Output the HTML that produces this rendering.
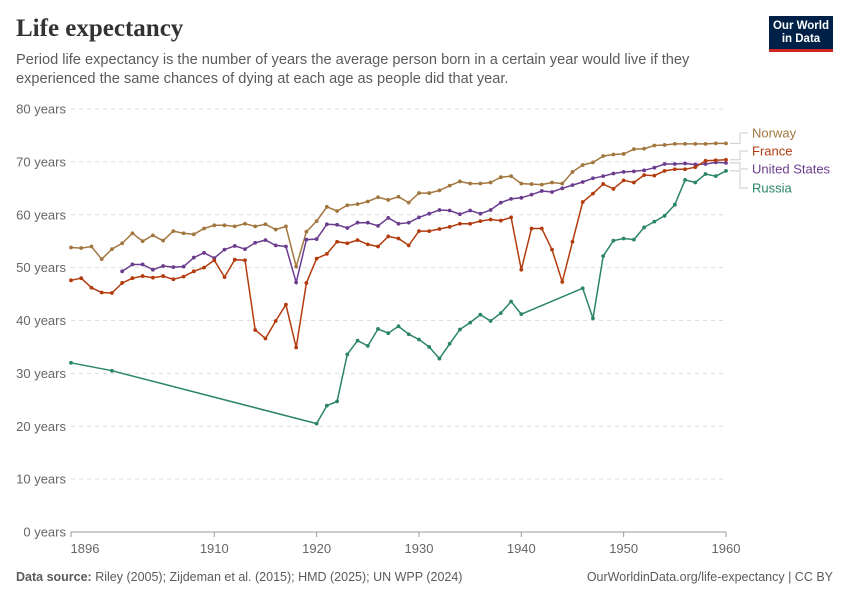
<!DOCTYPE html>
<html><head><meta charset="utf-8"><style>
body{margin:0;background:#fff;font-family:"Liberation Sans",sans-serif;}
#wrap{position:relative;width:850px;height:600px;overflow:hidden;}
.title{position:absolute;left:16px;top:15px;font-family:"Liberation Serif",serif;font-size:25px;color:#333;font-weight:bold;}
.sub{position:absolute;left:16px;top:51px;font-size:14.6px;line-height:19px;color:#5b5b5b;width:740px;}
.logo{position:absolute;left:769px;top:16px;width:64px;height:36px;background:#002147;border-bottom:3px solid #ce261e;color:#fff;font-size:11.5px;font-weight:bold;text-align:center;line-height:13px;padding-top:4px;box-sizing:border-box;}
.foot{position:absolute;top:570px;font-size:12.5px;color:#5b5b5b;}
</style></head><body>
<div id="wrap">
<div class="title">Life expectancy</div>
<div class="sub">Period life expectancy is the number of years the average person born in a certain year would live if they experienced the same chances of dying at each age as people did that year.</div>
<div class="logo">Our World<br>in Data</div>
<svg id="svg" width="850" height="600" style="position:absolute;left:0;top:0"></svg>
<div class="foot" style="left:16px"><b>Data source:</b> Riley (2005); Zijdeman et al. (2015); HMD (2025); UN WPP (2024)</div>
<div class="foot" style="right:17px">OurWorldinData.org/life-expectancy | CC BY</div>
</div>
<script>
const yTicks=[0,10,20,30,40,50,60,70,80];
const xTicks=[1896,1910,1920,1930,1940,1950,1960];
const norwayYears=[];for(let y=1896;y<=1960;y++)norwayYears.push(y);
const norwayVals=[53.8,53.7,54.0,51.6,53.5,54.6,56.5,55.0,56.1,55.1,56.9,56.5,56.3,57.4,58.0,58.0,57.8,58.3,57.8,58.2,57.2,57.8,50.2,56.8,58.8,61.5,60.7,61.8,62.0,62.5,63.3,62.8,63.4,62.3,64.1,64.1,64.6,65.5,66.3,65.9,65.9,66.1,67.1,67.3,65.9,65.8,65.7,66.1,65.9,68.1,69.4,69.9,71.1,71.4,71.5,72.4,72.5,73.1,73.2,73.4,73.4,73.4,73.4,73.5,73.5];
const franceVals=[47.6,48.0,46.2,45.3,45.2,47.1,48.0,48.4,48.1,48.4,47.8,48.3,49.3,50.0,51.4,48.2,51.5,51.4,38.2,36.6,39.9,43.0,34.9,47.1,51.7,52.6,54.9,54.6,55.2,54.4,54.0,55.9,55.5,54.2,56.9,56.9,57.3,57.7,58.3,58.3,58.8,59.1,58.9,59.5,49.6,57.4,57.4,53.4,47.3,54.9,62.4,64.0,65.8,64.9,66.5,66.1,67.5,67.4,68.3,68.6,68.6,69.0,70.2,70.3,70.4];
const usYears=[];for(let y=1901;y<=1960;y++)usYears.push(y);
const usVals=[49.3,50.6,50.6,49.6,50.3,50.1,50.2,51.9,52.8,51.8,53.4,54.1,53.5,54.7,55.2,54.2,54.0,47.2,55.3,55.4,58.2,58.1,57.5,58.5,58.5,57.9,59.4,58.3,58.5,59.5,60.2,60.9,60.8,60.1,60.8,60.2,60.9,62.3,63.0,63.2,63.8,64.5,64.3,65.0,65.6,66.2,66.9,67.3,67.8,68.1,68.2,68.4,68.9,69.6,69.6,69.7,69.5,69.6,69.9,69.8];
const russiaYears=[1896,1900,1920,1921,1922,1923,1924,1925,1926,1927,1928,1929,1930,1931,1932,1933,1934,1935,1936,1937,1938,1939,1940,1946,1947,1948,1949,1950,1951,1952,1953,1954,1955,1956,1957,1958,1959,1960];
const russiaVals=[32.0,30.5,20.5,23.9,24.7,33.6,36.2,35.2,38.4,37.6,38.9,37.4,36.4,35.0,32.8,35.6,38.3,39.6,41.1,39.9,41.4,43.6,41.2,46.1,40.4,52.2,55.1,55.5,55.3,57.6,58.7,59.8,61.9,66.6,66.1,67.7,67.3,68.3];

const svg=document.getElementById('svg');const NS='http://www.w3.org/2000/svg';
const X=y=>71+(y-1896)*(655/64);
const Y=v=>532-v*(423/80);
function el(t,a){const e=document.createElementNS(NS,t);for(const k in a)e.setAttribute(k,a[k]);svg.appendChild(e);return e;}
yTicks.forEach(t=>{
  const l=el('line',{x1:71,x2:726,y1:Y(t),y2:Y(t),stroke:t===0?'#999':'#ddd','stroke-dasharray':t===0?'':'4,4'});
  
  
  const tx=el('text',{x:66,y:Y(t)+4.5,'text-anchor':'end','font-size':13,fill:'#666','font-family':'Liberation Sans, sans-serif'});
  tx.textContent=t+' years';
  
  
});
xTicks.forEach(t=>{
  const l=el('line',{x1:X(t),x2:X(t),y1:532,y2:537,stroke:'#999'});
  
  
  const tx=el('text',{x:X(t)+(t===1896?14:0),y:553,'text-anchor':'middle','font-size':13,fill:'#666','font-family':'Liberation Sans, sans-serif'});
  tx.textContent=t;
  
  
});
function series(name,years,vals,col){
  const pts=years.map((y,i)=>X(y).toFixed(1)+','+Y(vals[i]).toFixed(1)).join(' ');
  const p=el('polyline',{points:pts,fill:'none',stroke:col,'stroke-width':1.5});
  
  
  years.forEach((y,i)=>{
    const c=el('circle',{cx:X(y),cy:Y(vals[i]),r:1.9,fill:col});
    
    
  });
}
series('norway',norwayYears,norwayVals,'#a2773f');
series('united-states',usYears,usVals,'#6b3d8f');
series('france',norwayYears,franceVals,'#b33b0e');
series('russia',russiaYears,russiaVals,'#2b8566');
const labels=[['Norway',133,'#a2773f',norwayVals[norwayVals.length-1]],['France',151,'#b33b0e',franceVals[franceVals.length-1]],['United States',169,'#6b3d8f',usVals[usVals.length-1]],['Russia',188,'#2b8566',russiaVals[russiaVals.length-1]]];
labels.forEach(([n,ly,c,v])=>{
  const yy=Y(v);
  const p=el('polyline',{points:`730,${yy} 740,${yy} 740,${ly} 748,${ly}`,fill:'none',stroke:'#ccc'});
  
  
  const t=el('text',{x:752,y:ly+4.5,'font-size':13,fill:c,'font-family':'Liberation Sans, sans-serif'});
  t.textContent=n;
  
  
});
</script>
</body></html>
